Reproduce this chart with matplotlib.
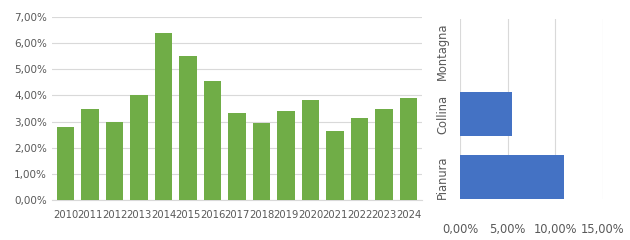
import matplotlib.pyplot as plt
from matplotlib.ticker import FuncFormatter

# Dati
anni = [str(a) for a in range(2010, 2025)]
valori_anni = [0.0279, 0.0348, 0.0298, 0.0402, 0.0639, 0.0551, 0.0455, 0.0333,
               0.0295, 0.0340, 0.0383, 0.0264, 0.0314, 0.0348, 0.0390]

zone = ["Pianura", "Collina", "Montagna"]
valori_zone = [0.109, 0.055, 0.0]

verde = "#70AD47"
blu = "#4472C4"
griglia = "#D9D9D9"
testo = "#595959"

def perc(v, pos):
    return ("%.2f%%" % (v * 100)).replace(".", ",")

fig = plt.figure(figsize=(6.3, 2.4), dpi=100)

# Grafico a colonne
ax1 = fig.add_axes([52 / 630, 40 / 240, 370 / 630, 183 / 240])
ax1.bar(range(len(anni)), valori_anni, width=0.73, color=verde, zorder=3)
ax1.set_ylim(0, 0.07)
ax1.set_xlim(-0.55, len(anni) - 0.45)
ax1.set_yticks([i / 100 for i in range(8)])
ax1.yaxis.set_major_formatter(FuncFormatter(perc))
ax1.set_xticks(range(len(anni)))
ax1.set_xticklabels(anni, fontsize=7.2)
ax1.grid(axis="y", color=griglia, linewidth=0.8, zorder=0)
for s in ["top", "right", "left"]:
    ax1.spines[s].set_visible(False)
ax1.spines["bottom"].set_color(griglia)
ax1.tick_params(axis="both", length=0, colors=testo, labelsize=7.5)
ax1.tick_params(axis="x", pad=7, labelsize=7.2)

# Grafico a barre orizzontali
ax2 = fig.add_axes([460 / 630, 41 / 240, 143 / 630, 180 / 240])
ax2.barh(range(len(zone)), valori_zone, height=0.7, color=blu, zorder=3)
ax2.set_xlim(0, 0.15)
ax2.set_ylim(-0.35, 2.51)
ax2.set_xticks([0, 0.05, 0.10, 0.15])
ax2.xaxis.set_major_formatter(FuncFormatter(perc))
ax2.set_yticks(range(len(zone)))
ax2.set_yticklabels(zone, rotation=90, va="center")
ax2.grid(axis="x", color=griglia, linewidth=0.8, zorder=0)
for s in ax2.spines.values():
    s.set_visible(False)
ax2.tick_params(axis="both", length=0, colors=testo, labelsize=8.3)
ax2.tick_params(axis="x", pad=17)
ax2.tick_params(axis="y", pad=8)

fig.savefig("out.png", dpi=100)
